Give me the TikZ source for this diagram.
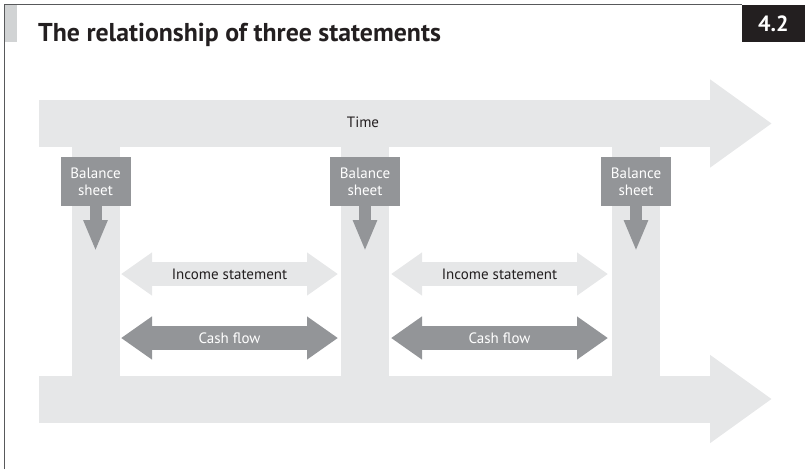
\documentclass[tikz,border=0pt]{standalone}
\usepackage{fontspec}
\setmainfont{PT Sans}
\usepackage{tikz}
\usetikzlibrary{arrows.meta, positioning, calc}

\definecolor{bandgrey}{HTML}{E6E7E8}
\definecolor{markgrey}{HTML}{939598}
\definecolor{bargrey}{HTML}{D1D3D4}
\definecolor{framegrey}{HTML}{58595B}
\definecolor{inkblack}{HTML}{231F20}

\begin{document}
\begin{tikzpicture}[
  x=1pt, y=-1pt,
  band/.style={draw=bandgrey, line width=47pt,
               -{Triangle[length=62pt, width=84pt]}},
  income/.style={draw=bandgrey, line width=24pt,
                 {Triangle[length=31pt, width=41pt]}-{Triangle[length=31pt, width=41pt]}},
  cash/.style={income, draw=markgrey},
  sheetbox/.style={rectangle, fill=markgrey, text=white,
                   minimum width=70pt, minimum height=49pt, inner sep=0pt,
                   font=\fontsize{15}{17}\selectfont, align=center},
  drop/.style={draw=markgrey, line width=12pt,
               -{Triangle[length=31pt, width=22pt]}},
  lbl/.style={font=\fontsize{15}{17}\selectfont, text=inkblack},
]
  \useasboundingbox (0,0) rectangle (805,469);

  % header
  \draw[framegrey, line width=1.5pt] (4.5,469) -- (4.5,4.5) -- (742,4.5);
  \fill[bargrey] (5.25,5.25) rectangle (17,42);
  \node[anchor=base west, inner sep=0pt, text=inkblack,
        font=\fontsize{25.8}{28}\selectfont\bfseries] (title) at (38,41)
        {The relationship of three statements};
  \node[anchor=north east, fill=inkblack, text=white, inner sep=0pt,
        minimum width=63pt, minimum height=37pt,
        font=\fontsize{22}{24}\selectfont\bfseries] (num) at (805,5) {4.2};

  % time bands
  \coordinate (t0) at (39,123.5);
  \coordinate (t1) at (772,123.5);
  \coordinate (b0) at (39,399);
  \coordinate (b1) at (772,399);
  \draw[band] (t0) -- (t1);
  \draw[band] (b0) -- (b1);
  \node[lbl] (time) at (363,122) {Time};

  % columns and balance sheets
  \foreach \i/\x in {1/95.5, 2/365, 3/636} {
    \fill[bandgrey] (\x-24,146) rectangle (\x+24,376);
    \node[sheetbox] (bs\i) at (\x,181.5) {Balance\\sheet};
    \draw[drop] (bs\i.south) -- ++(0,45);
  }

  % flows between balance sheets
  \coordinate (i1a) at (121,274);
  \coordinate (i1b) at (338,274);
  \coordinate (i2a) at (391,274);
  \coordinate (i2b) at (608,274);
  \coordinate (c1a) at (121,338);
  \coordinate (c1b) at (338,338);
  \coordinate (c2a) at (391,338);
  \coordinate (c2b) at (608,338);

  \draw[income] (i1a) -- (i1b);
  \draw[income] (i2a) -- (i2b);
  \draw[cash] (c1a) -- (c1b);
  \draw[cash] (c2a) -- (c2b);

  \node[lbl] (inc1) at ($(i1a)!0.5!(i1b)$) {Income statement};
  \node[lbl] (inc2) at ($(i2a)!0.5!(i2b)$) {Income statement};
  \node[lbl, text=white] (cf1) at ($(c1a)!0.5!(c1b)$) {Cash flow};
  \node[lbl, text=white] (cf2) at ($(c2a)!0.5!(c2b)$) {Cash flow};
\end{tikzpicture}
\end{document}
